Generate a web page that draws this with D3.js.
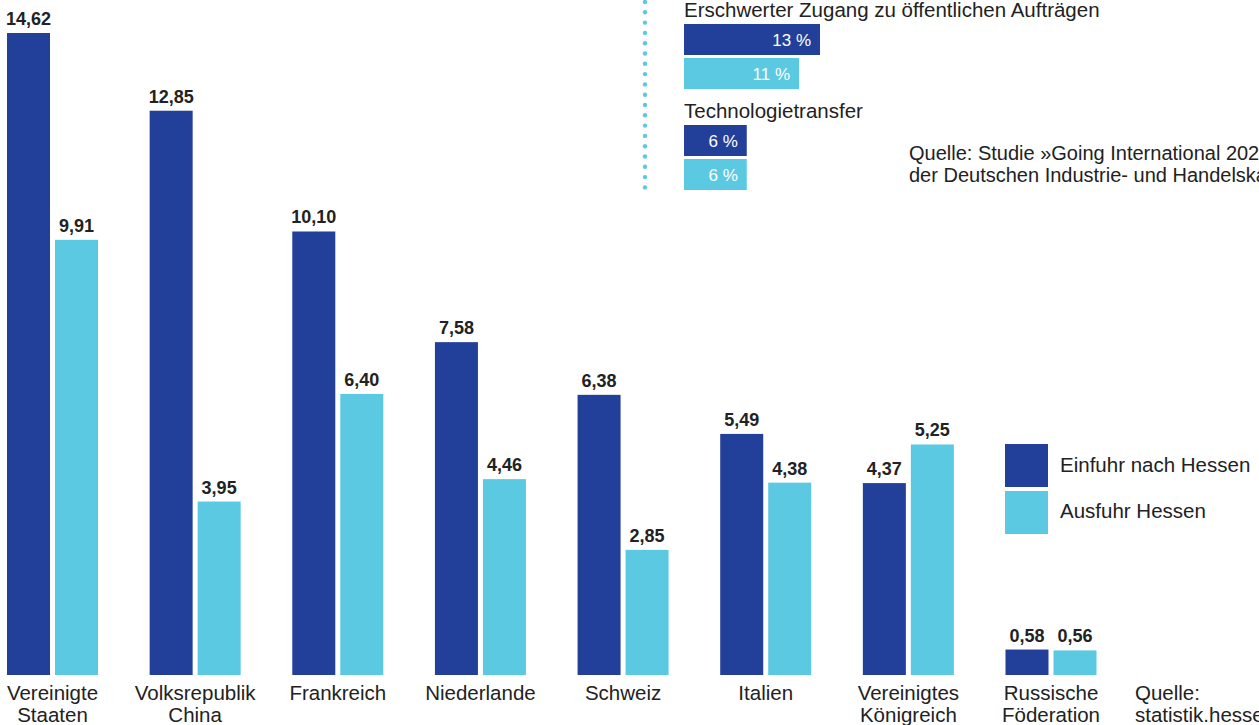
<!DOCTYPE html>
<html>
<head>
<meta charset="utf-8">
<script src="https://cdn.jsdelivr.net/npm/d3@7"></script>
<style>
  html, body { margin: 0; padding: 0; background: #fff; overflow: hidden; }
  svg { display: block; font-family: "Liberation Sans", Arial, sans-serif; }
</style>
</head>
<body>
<svg id="chart"></svg>
<script>
// Daten (Mrd. Euro)
const countries = [
  ["Vereinigte", "Staaten"], ["Volksrepublik", "China"], ["Frankreich"], ["Niederlande"],
  ["Schweiz"], ["Italien"], ["Vereinigtes", "Königreich"], ["Russische", "Föderation"]
];
const einfuhr = [14.62, 12.85, 10.10, 7.58, 6.38, 5.49, 4.37, 0.58];
const ausfuhr = [9.91, 3.95, 6.40, 4.46, 2.85, 4.38, 5.25, 0.56];
const seriesNames = ["Einfuhr nach Hessen", "Ausfuhr Hessen"];

// kleine Balken oben rechts
const barrierTopics = ["Erschwerter Zugang zu öffentlichen Aufträgen", "Technologietransfer"];
const barrierA = [13, 6];
const barrierB = [11, 6];

const width = 1259, height = 725;
const colors = ["#22409a", "#5bc9e2"];
const textColor = "#222";
const fs = 20.5;

const svg = d3.select("#chart").attr("width", width).attr("height", height);

const baseline = 675;
const x = d3.scaleBand()
  .domain(d3.range(countries.length))
  .range([7, 1096.5])
  .paddingInner(0.362)
  .paddingOuter(0);
const xSub = d3.scaleBand()
  .domain([0, 1])
  .range([0, x.bandwidth()])
  .paddingInner(0.104);
const y = d3.scaleLinear().domain([0, 14.62]).range([baseline, 33]);

const fmt = d => d3.format(".2f")(d).replace(".", ",");

const rows = countries.map((c, i) => ({ i, c, vals: [einfuhr[i], ausfuhr[i]] }));

const groups = svg.selectAll(".grp")
  .data(rows)
  .enter().append("g")
  .attr("class", "grp")
  .attr("transform", d => `translate(${x(d.i)},0)`);

groups.selectAll("rect")
  .data(d => d.vals.map((v, k) => ({ v, k })))
  .enter().append("rect")
  .attr("x", d => xSub(d.k))
  .attr("y", d => y(d.v))
  .attr("width", xSub.bandwidth())
  .attr("height", d => baseline - y(d.v))
  .attr("fill", d => colors[d.k]);

groups.selectAll(".val")
  .data(d => d.vals.map((v, k) => ({ v, k })))
  .enter().append("text")
  .attr("class", "val")
  .attr("x", d => xSub(d.k) + xSub.bandwidth() / 2)
  .attr("y", d => y(d.v) - 8)
  .attr("text-anchor", "middle")
  .attr("font-size", 18)
  .attr("font-weight", "bold")
  .attr("fill", textColor)
  .text(d => fmt(d.v));

groups.each(function (d) {
  const t = d3.select(this).append("text")
    .attr("text-anchor", "middle")
    .attr("font-size", fs)
    .attr("fill", textColor);
  d.c.forEach((line, j) => {
    t.append("tspan")
      .attr("x", x.bandwidth() / 2)
      .attr("y", 700 + j * 22)
      .text(line);
  });
});

// Legende
const legend = svg.append("g").attr("transform", "translate(1005,444)");
seriesNames.forEach((name, k) => {
  legend.append("rect")
    .attr("x", 0).attr("y", k * 47)
    .attr("width", 43).attr("height", 43)
    .attr("fill", colors[k]);
  legend.append("text")
    .attr("x", 55).attr("y", k * 46 + 28)
    .attr("font-size", fs)
    .attr("fill", textColor)
    .text(name);
});

// Quelle unten rechts
svg.append("text")
  .attr("font-size", fs).attr("fill", textColor)
  .selectAll("tspan")
  .data(["Quelle:", "statistik.hessen.de"])
  .enter().append("tspan")
  .attr("x", 1135)
  .attr("y", (d, i) => 700 + i * 22)
  .text(d => d);

// Einschub oben rechts
const inset = svg.append("g");
inset.selectAll("circle")
  .data(d3.range(0, 19))
  .enter().append("circle")
  .attr("cx", 645)
  .attr("cy", d => 2 + d * 10.3)
  .attr("r", 2.2)
  .attr("fill", colors[1]);

const xs = d3.scaleLinear().domain([0, 13]).range([0, 136]);
const blockTop = [0, 101];
barrierTopics.forEach((topic, t) => {
  const g = inset.append("g").attr("transform", `translate(684,${blockTop[t]})`);
  g.append("text")
    .attr("x", 0).attr("y", 17)
    .attr("font-size", fs).attr("fill", textColor)
    .text(topic);
  [barrierA[t], barrierB[t]].forEach((v, k) => {
    const yy = 24 + k * 34;
    g.append("rect")
      .attr("x", 0).attr("y", yy)
      .attr("width", xs(v)).attr("height", 31)
      .attr("fill", colors[k]);
    g.append("text")
      .attr("x", xs(v) - 9).attr("y", yy + 22)
      .attr("text-anchor", "end")
      .attr("font-size", 17).attr("fill", "#fff")
      .text(v + " %");
  });
});

svg.append("text")
  .attr("font-size", 20).attr("fill", textColor)
  .selectAll("tspan")
  .data(["Quelle: Studie »Going International 2024«", "der Deutschen Industrie- und Handelskammer"])
  .enter().append("tspan")
  .attr("x", 909)
  .attr("y", (d, i) => 160 + i * 22)
  .text(d => d);
</script>
</body>
</html>
